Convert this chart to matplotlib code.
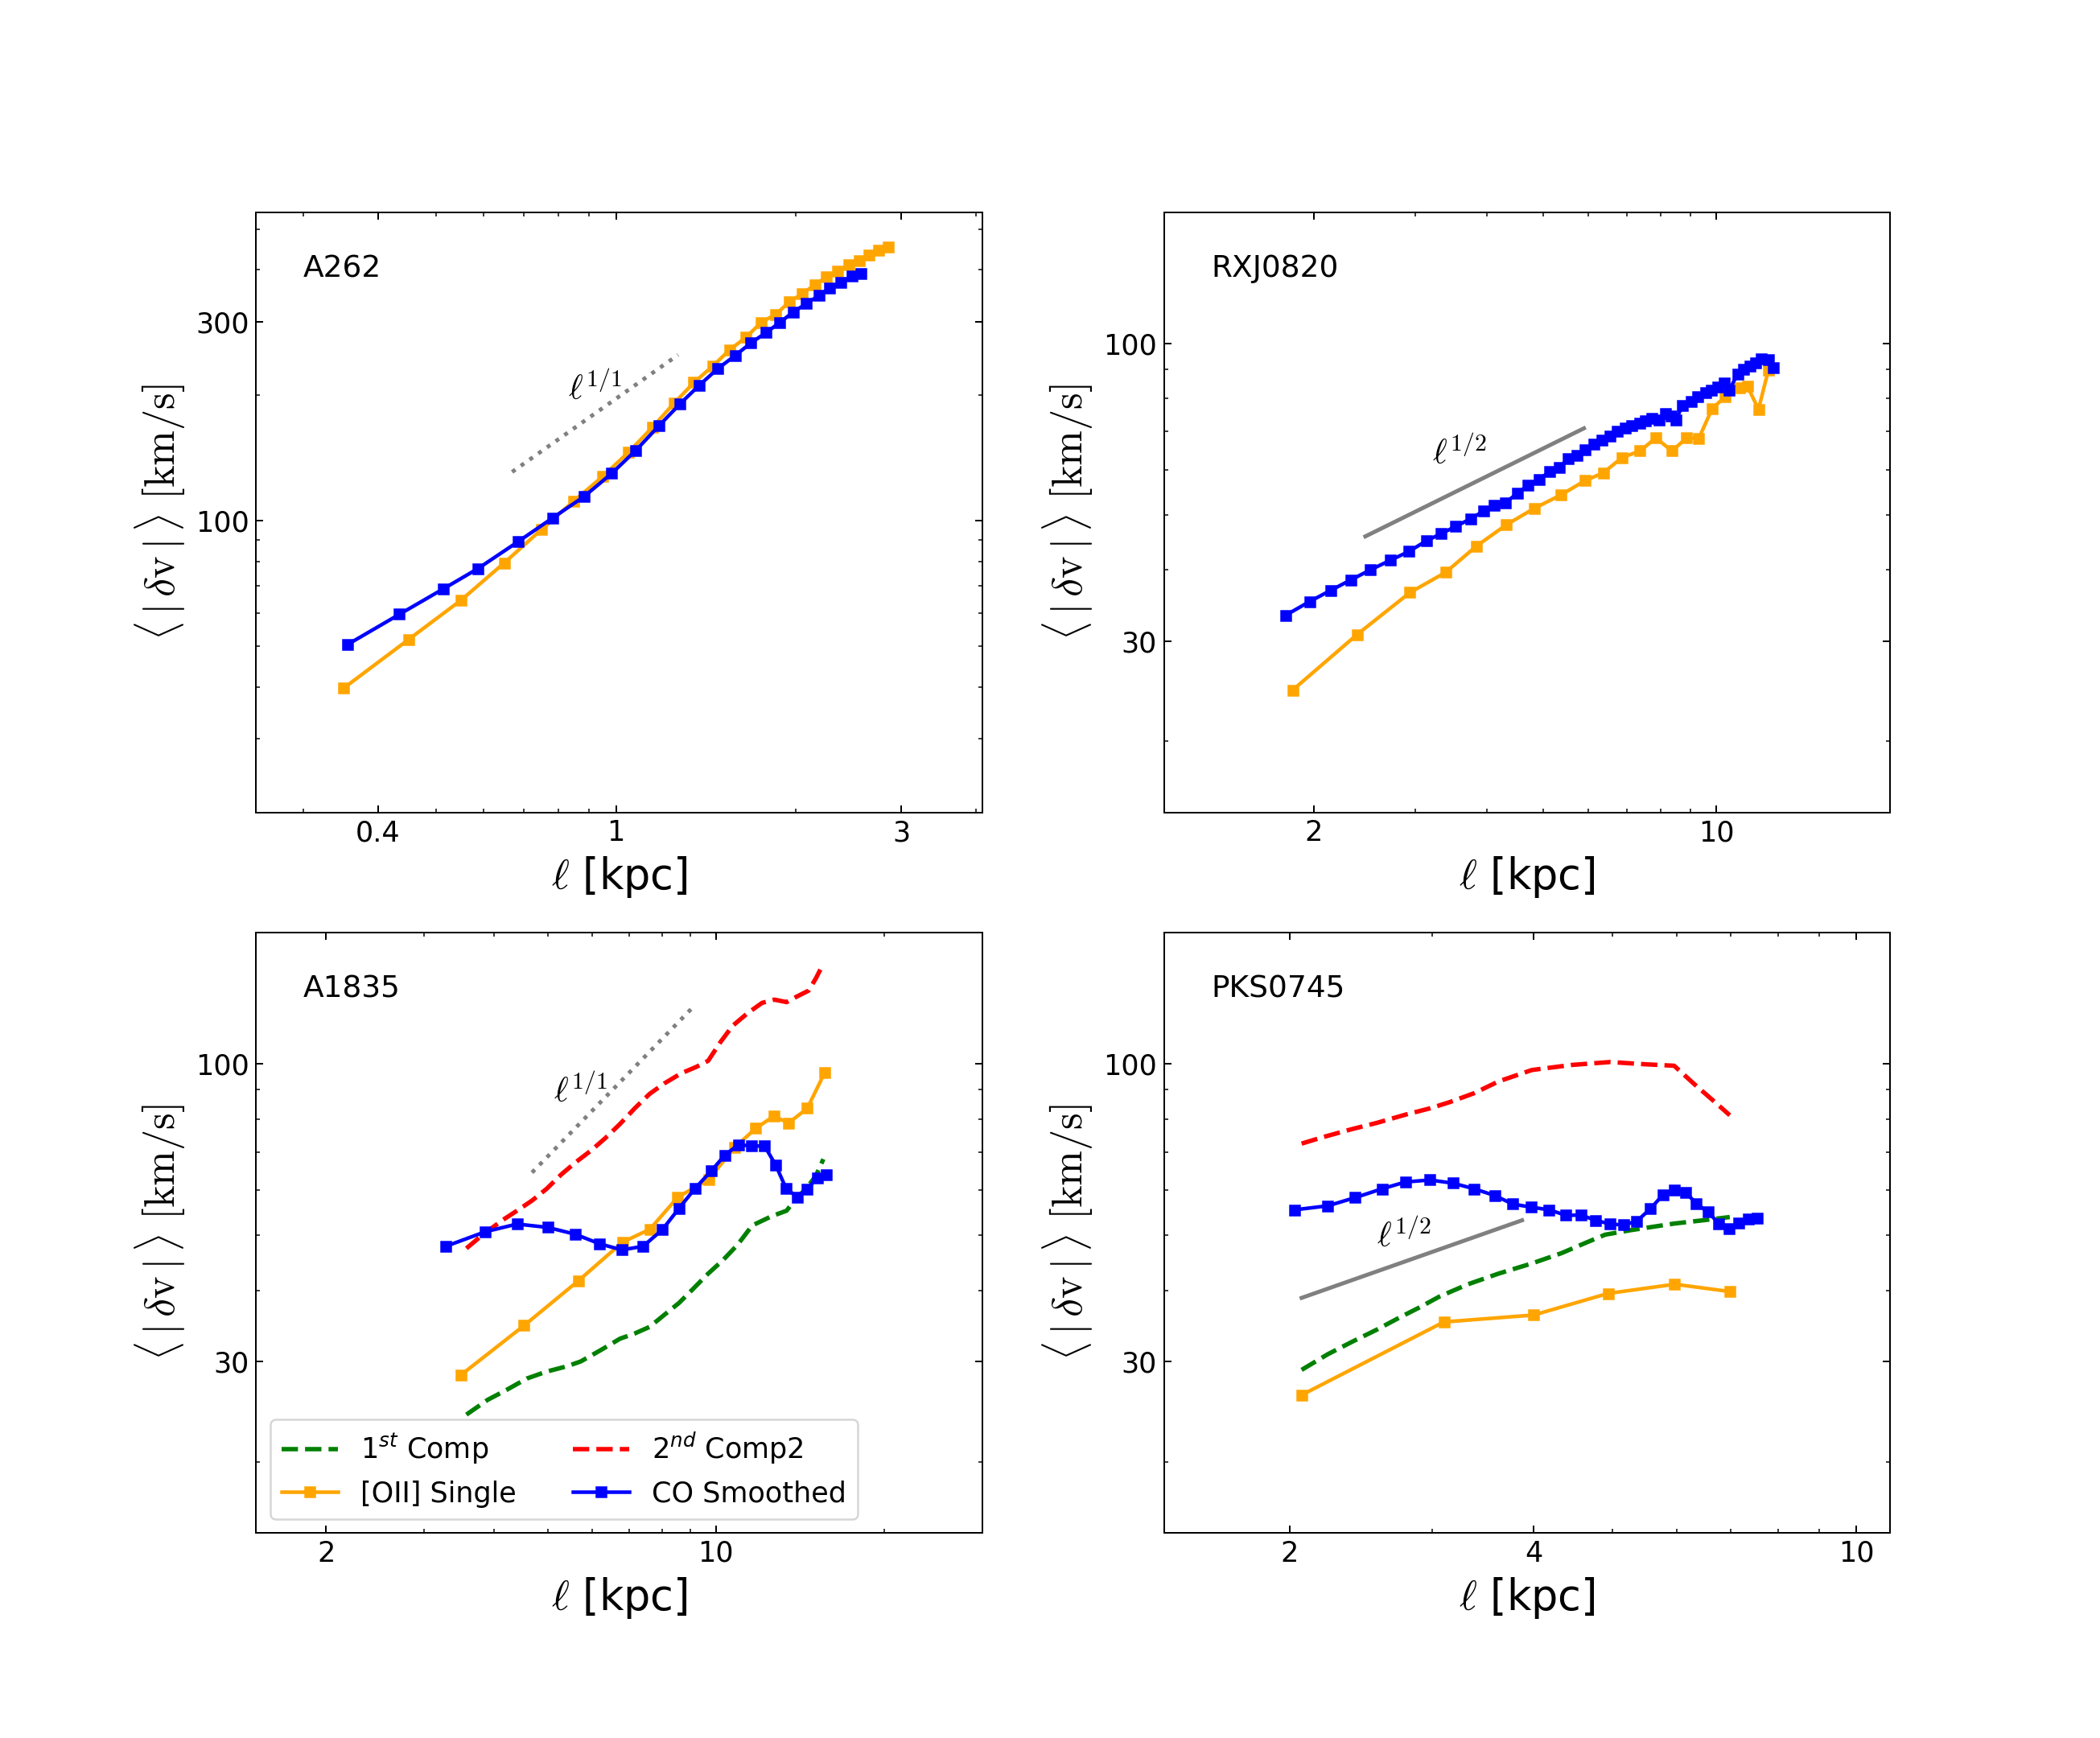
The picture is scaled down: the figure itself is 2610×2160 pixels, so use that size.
import matplotlib
matplotlib.use('Agg')
import matplotlib.pyplot as plt
from matplotlib.ticker import FuncFormatter, NullFormatter

# ---- A262 ----
a262_oii_l = [0.35, 0.45, 0.55, 0.65, 0.75, 0.85, 0.95, 1.05, 1.15, 1.25, 1.35, 1.45, 1.55,
              1.65, 1.75, 1.85, 1.95, 2.05, 2.15, 2.25, 2.35, 2.45, 2.55, 2.65, 2.75, 2.85]
a262_oii_v = [39.7, 52.0, 64.5, 79.3, 95.3, 111.6, 127.8, 146.3, 167.5, 191.4, 214.6, 234.7, 257.3,
              275.5, 299.3, 312.6, 334.9, 350.6, 367.9, 384.3, 396.0, 411.7, 421.3, 434.0, 445.0, 454.4]
a262_co_l = [0.356, 0.434, 0.514, 0.587, 0.686, 0.783, 0.885, 0.983, 1.078, 1.180, 1.280, 1.377,
             1.479, 1.582, 1.681, 1.782, 1.878, 1.980, 2.083, 2.183, 2.279, 2.380, 2.481, 2.567]
a262_co_v = [50.6, 59.7, 68.7, 76.8, 89.2, 101.6, 114.5, 129.9, 147.3, 169.1, 190.9, 211.2,
             231.5, 249.1, 266.9, 282.7, 298.6, 316.9, 331.8, 346.7, 361.3, 373.1, 386.2, 391.5]
a262_guide_l = [0.67, 1.27]
a262_guide_v = [131, 250]

# ---- RXJ0820 ----
rxj_oii_l = [1.84, 2.38, 2.94, 3.39, 3.83, 4.32, 4.83, 5.38, 5.92, 6.36, 6.86, 7.37, 7.85, 8.37,
             8.88, 9.32, 9.83, 10.36, 10.98, 11.31, 11.83, 12.30]
rxj_oii_v = [24.6, 30.8, 36.5, 39.6, 44.0, 48.0, 51.3, 54.2, 57.4, 59.2, 63.0, 64.7, 68.2, 64.7,
             68.2, 68.1, 76.8, 80.6, 83.5, 84.1, 76.6, 89.6]
rxj_co_l = [1.79, 1.97, 2.14, 2.32, 2.51, 2.72, 2.93, 3.14, 3.33, 3.53, 3.75, 3.94, 4.12, 4.31,
            4.51, 4.71, 4.92, 5.13, 5.34, 5.53, 5.72, 5.92, 6.12, 6.33, 6.53, 6.73, 6.94, 7.13,
            7.36, 7.52, 7.73, 7.94, 8.16, 8.34, 8.52, 8.72, 9.04, 9.29, 9.58, 9.79, 10.04, 10.30,
            10.52, 10.89, 11.16, 11.43, 11.70, 11.95, 12.33, 12.54]
rxj_co_v = [33.3, 35.2, 36.8, 38.4, 40.0, 41.6, 43.1, 45.0, 46.3, 47.7, 49.2, 50.7, 51.9, 52.5,
            54.5, 56.3, 57.6, 59.5, 60.6, 62.7, 63.5, 65.1, 66.4, 67.7, 68.7, 70.0, 71.0, 71.7,
            72.3, 73.0, 73.8, 73.2, 75.2, 74.6, 73.4, 77.8, 79.1, 80.5, 82.0, 82.8, 83.8, 85.1,
            82.7, 88.4, 90.0, 91.2, 92.3, 93.8, 93.5, 90.6]
rxj_guide_l = [2.46, 5.89]
rxj_guide_v = [45.8, 70.9]

# ---- A1835 ----
a1835_c1_l = [3.57, 3.90, 4.23, 4.58, 4.97, 5.39, 5.72, 6.21, 6.73, 7.15, 7.60, 8.07, 8.58, 9.11,
              9.68, 10.29, 10.93, 11.61, 12.59, 13.38, 13.93, 14.50, 15.10, 15.57]
a1835_c1_v = [24.2, 25.7, 26.8, 28.0, 28.8, 29.4, 30.0, 31.4, 32.9, 33.6, 34.5, 36.2, 38.0, 40.3,
              42.8, 45.2, 48.1, 52.0, 54.0, 55.2, 58.1, 60.3, 63.6, 68.0]
a1835_c2_l = [3.57, 3.82, 4.14, 4.40, 4.68, 4.97, 5.28, 5.61, 5.96, 6.33, 6.73, 7.15, 7.60, 8.07,
              8.66, 9.21, 9.68, 10.18, 10.71, 11.38, 12.09, 12.72, 13.38, 13.93, 14.65, 15.10, 15.57]
a1835_c2_v = [47.4, 50.1, 53.1, 55.2, 57.5, 60.3, 63.9, 67.2, 70.3, 74.0, 78.4, 83.5, 88.5, 92.3,
              96.2, 98.7, 101.2, 109.1, 116.6, 122.6, 127.9, 129.6, 128.3, 131.1, 134.4, 141.3, 149.9]
a1835_oii_l = [3.49, 4.53, 5.67, 6.80, 7.61, 8.54, 9.70, 10.78, 11.78, 12.69, 13.49, 14.57, 15.66]
a1835_oii_v = [28.4, 34.7, 41.6, 48.6, 51.2, 58.3, 62.6, 71.2, 77.0, 80.9, 78.7, 83.5, 96.5]
a1835_co_l = [3.28, 3.86, 4.40, 4.99, 5.59, 6.18, 6.78, 7.40, 8.01, 8.58, 9.17, 9.80, 10.37,
              10.97, 11.59, 12.22, 12.80, 13.35, 13.99, 14.57, 15.19, 15.76]
a1835_co_v = [47.8, 50.7, 52.3, 51.6, 50.2, 48.3, 47.1, 47.8, 51.1, 55.7, 60.4, 64.8, 69.1,
              72.1, 71.7, 71.7, 66.3, 60.4, 58.3, 60.3, 63.0, 63.8]
a1835_guide_l = [4.68, 9.02]
a1835_guide_v = [64.4, 124.7]

# ---- PKS0745 ----
pks_c1_l = [2.07, 2.23, 2.39, 2.56, 2.74, 2.90, 3.06, 3.32, 3.62, 3.98, 4.33, 4.64, 4.90, 5.26,
            5.96, 6.47, 6.98]
pks_c1_v = [29.0, 30.9, 32.5, 34.1, 35.9, 37.4, 39.0, 41.0, 42.8, 44.6, 46.5, 48.5, 50.1, 51.0,
            52.4, 53.1, 53.8]
pks_c2_l = [2.07, 2.19, 2.39, 2.56, 2.78, 2.98, 3.15, 3.38, 3.62, 3.98, 4.45, 4.97, 5.48, 5.96,
            6.30, 6.65, 6.98]
pks_c2_v = [72.4, 74.2, 76.8, 78.7, 81.4, 83.5, 85.6, 88.8, 93.1, 97.5, 99.5, 100.7, 99.8, 99.2,
            92.3, 86.3, 81.2]
pks_oii_l = [2.07, 3.10, 4.00, 4.94, 5.97, 6.99]
pks_oii_v = [26.2, 35.2, 36.2, 39.5, 41.0, 39.8]
pks_co_l = [2.03, 2.23, 2.41, 2.60, 2.78, 2.98, 3.18, 3.38, 3.58, 3.77, 3.97, 4.18, 4.38, 4.58,
            4.77, 4.97, 5.16, 5.36, 5.57, 5.77, 5.97, 6.16, 6.35, 6.56, 6.77, 6.97, 7.16, 7.36, 7.55]
pks_co_v = [55.4, 56.3, 58.2, 60.3, 62.0, 62.5, 61.7, 60.3, 58.7, 56.7, 56.0, 55.4, 54.2, 54.2,
            53.1, 52.3, 52.1, 52.9, 55.6, 58.8, 60.1, 59.4, 56.8, 54.9, 52.4, 51.4, 52.5, 53.4, 53.6]
pks_guide_l = [2.07, 3.87]
pks_guide_v = [38.8, 53.1]

LW = 1.8
MS = 5
TICK_FS = 14
LABEL_FS = 21
TEXT_FS = 15
GUIDE_FS = 17
LEG_FS = 14

fmt = FuncFormatter(lambda v, p: '%g' % v)


def style(ax, xlim, ylim, xt, yt, name):
    ax.set_xscale('log')
    ax.set_yscale('log')
    ax.set_xlim(xlim)
    ax.set_ylim(ylim)
    ax.set_xticks(xt)
    ax.set_yticks(yt)
    ax.xaxis.set_major_formatter(fmt)
    ax.yaxis.set_major_formatter(fmt)
    ax.xaxis.set_minor_formatter(NullFormatter())
    ax.yaxis.set_minor_formatter(NullFormatter())
    ax.tick_params(which='both', direction='in', top=True, right=True, labelsize=TICK_FS)
    ax.set_xlabel(r'$\ell$ [kpc]', fontsize=LABEL_FS, math_fontfamily='cm')
    ax.set_ylabel(r'$\langle\,|\,\delta\mathrm{v}\,|\,\rangle\ [\mathrm{km/s}]$',
                  fontsize=LABEL_FS, math_fontfamily='cm')
    ax.text(0.065, 0.905, name, transform=ax.transAxes, fontsize=TEXT_FS, va='center')


fig, axes = plt.subplots(2, 2, figsize=(14.5, 12))
plt.subplots_adjust(left=0.122, right=0.9, top=0.878, bottom=0.118, wspace=0.25, hspace=0.2)

# A262
ax = axes[0, 0]
ax.plot(a262_guide_l, a262_guide_v, ':', color='gray', lw=2)
ax.text(0.83, 195, r'$\ell^{\mathsf{1/1}}$', fontsize=GUIDE_FS, math_fontfamily='cm')
ax.plot(a262_oii_l, a262_oii_v, 's-', color='orange', lw=LW, ms=MS)
ax.plot(a262_co_l, a262_co_v, 's-', color='blue', lw=LW, ms=MS)
style(ax, (0.25, 4.1), (20, 550), [0.4, 1, 3], [100, 300], 'A262')

# RXJ0820
ax = axes[0, 1]
ax.plot(rxj_guide_l, rxj_guide_v, '-', color='gray', lw=2)
ax.text(3.21, 61.3, r'$\ell^{\mathsf{1/2}}$', fontsize=GUIDE_FS, math_fontfamily='cm')
ax.plot(rxj_oii_l, rxj_oii_v, 's-', color='orange', lw=LW, ms=MS)
ax.plot(rxj_co_l, rxj_co_v, 's-', color='blue', lw=LW, ms=MS)
style(ax, (1.1, 20), (15, 170), [2, 10], [30, 100], 'RXJ0820')

# A1835
ax = axes[1, 0]
ax.plot(a1835_guide_l, a1835_guide_v, ':', color='gray', lw=2)
ax.text(5.12, 85.6, r'$\ell^{\mathsf{1/1}}$', fontsize=GUIDE_FS, math_fontfamily='cm')
h1, = ax.plot(a1835_c1_l, a1835_c1_v, '--', color='green', lw=2.2, label='1$^{st}$ Comp')
h2, = ax.plot(a1835_c2_l, a1835_c2_v, '--', color='red', lw=2.2, label='2$^{nd}$ Comp2')
h3, = ax.plot(a1835_oii_l, a1835_oii_v, 's-', color='orange', lw=LW, ms=MS, label='[OII] Single')
h4, = ax.plot(a1835_co_l, a1835_co_v, 's-', color='blue', lw=LW, ms=MS, label='CO Smoothed')
ax.legend(handles=[h1, h3, h2, h4], ncol=2, loc='lower left', fontsize=LEG_FS)
style(ax, (1.5, 30), (15, 170), [2, 10], [30, 100], 'A1835')

# PKS0745
ax = axes[1, 1]
ax.plot(pks_guide_l, pks_guide_v, '-', color='gray', lw=2)
ax.text(2.56, 47.7, r'$\ell^{\mathsf{1/2}}$', fontsize=GUIDE_FS, math_fontfamily='cm')
ax.plot(pks_c1_l, pks_c1_v, '--', color='green', lw=2.2)
ax.plot(pks_c2_l, pks_c2_v, '--', color='red', lw=2.2)
ax.plot(pks_oii_l, pks_oii_v, 's-', color='orange', lw=LW, ms=MS)
ax.plot(pks_co_l, pks_co_v, 's-', color='blue', lw=LW, ms=MS)
style(ax, (1.4, 11), (15, 170), [2, 4, 10], [30, 100], 'PKS0745')

fig.savefig('out.png', dpi=180)
